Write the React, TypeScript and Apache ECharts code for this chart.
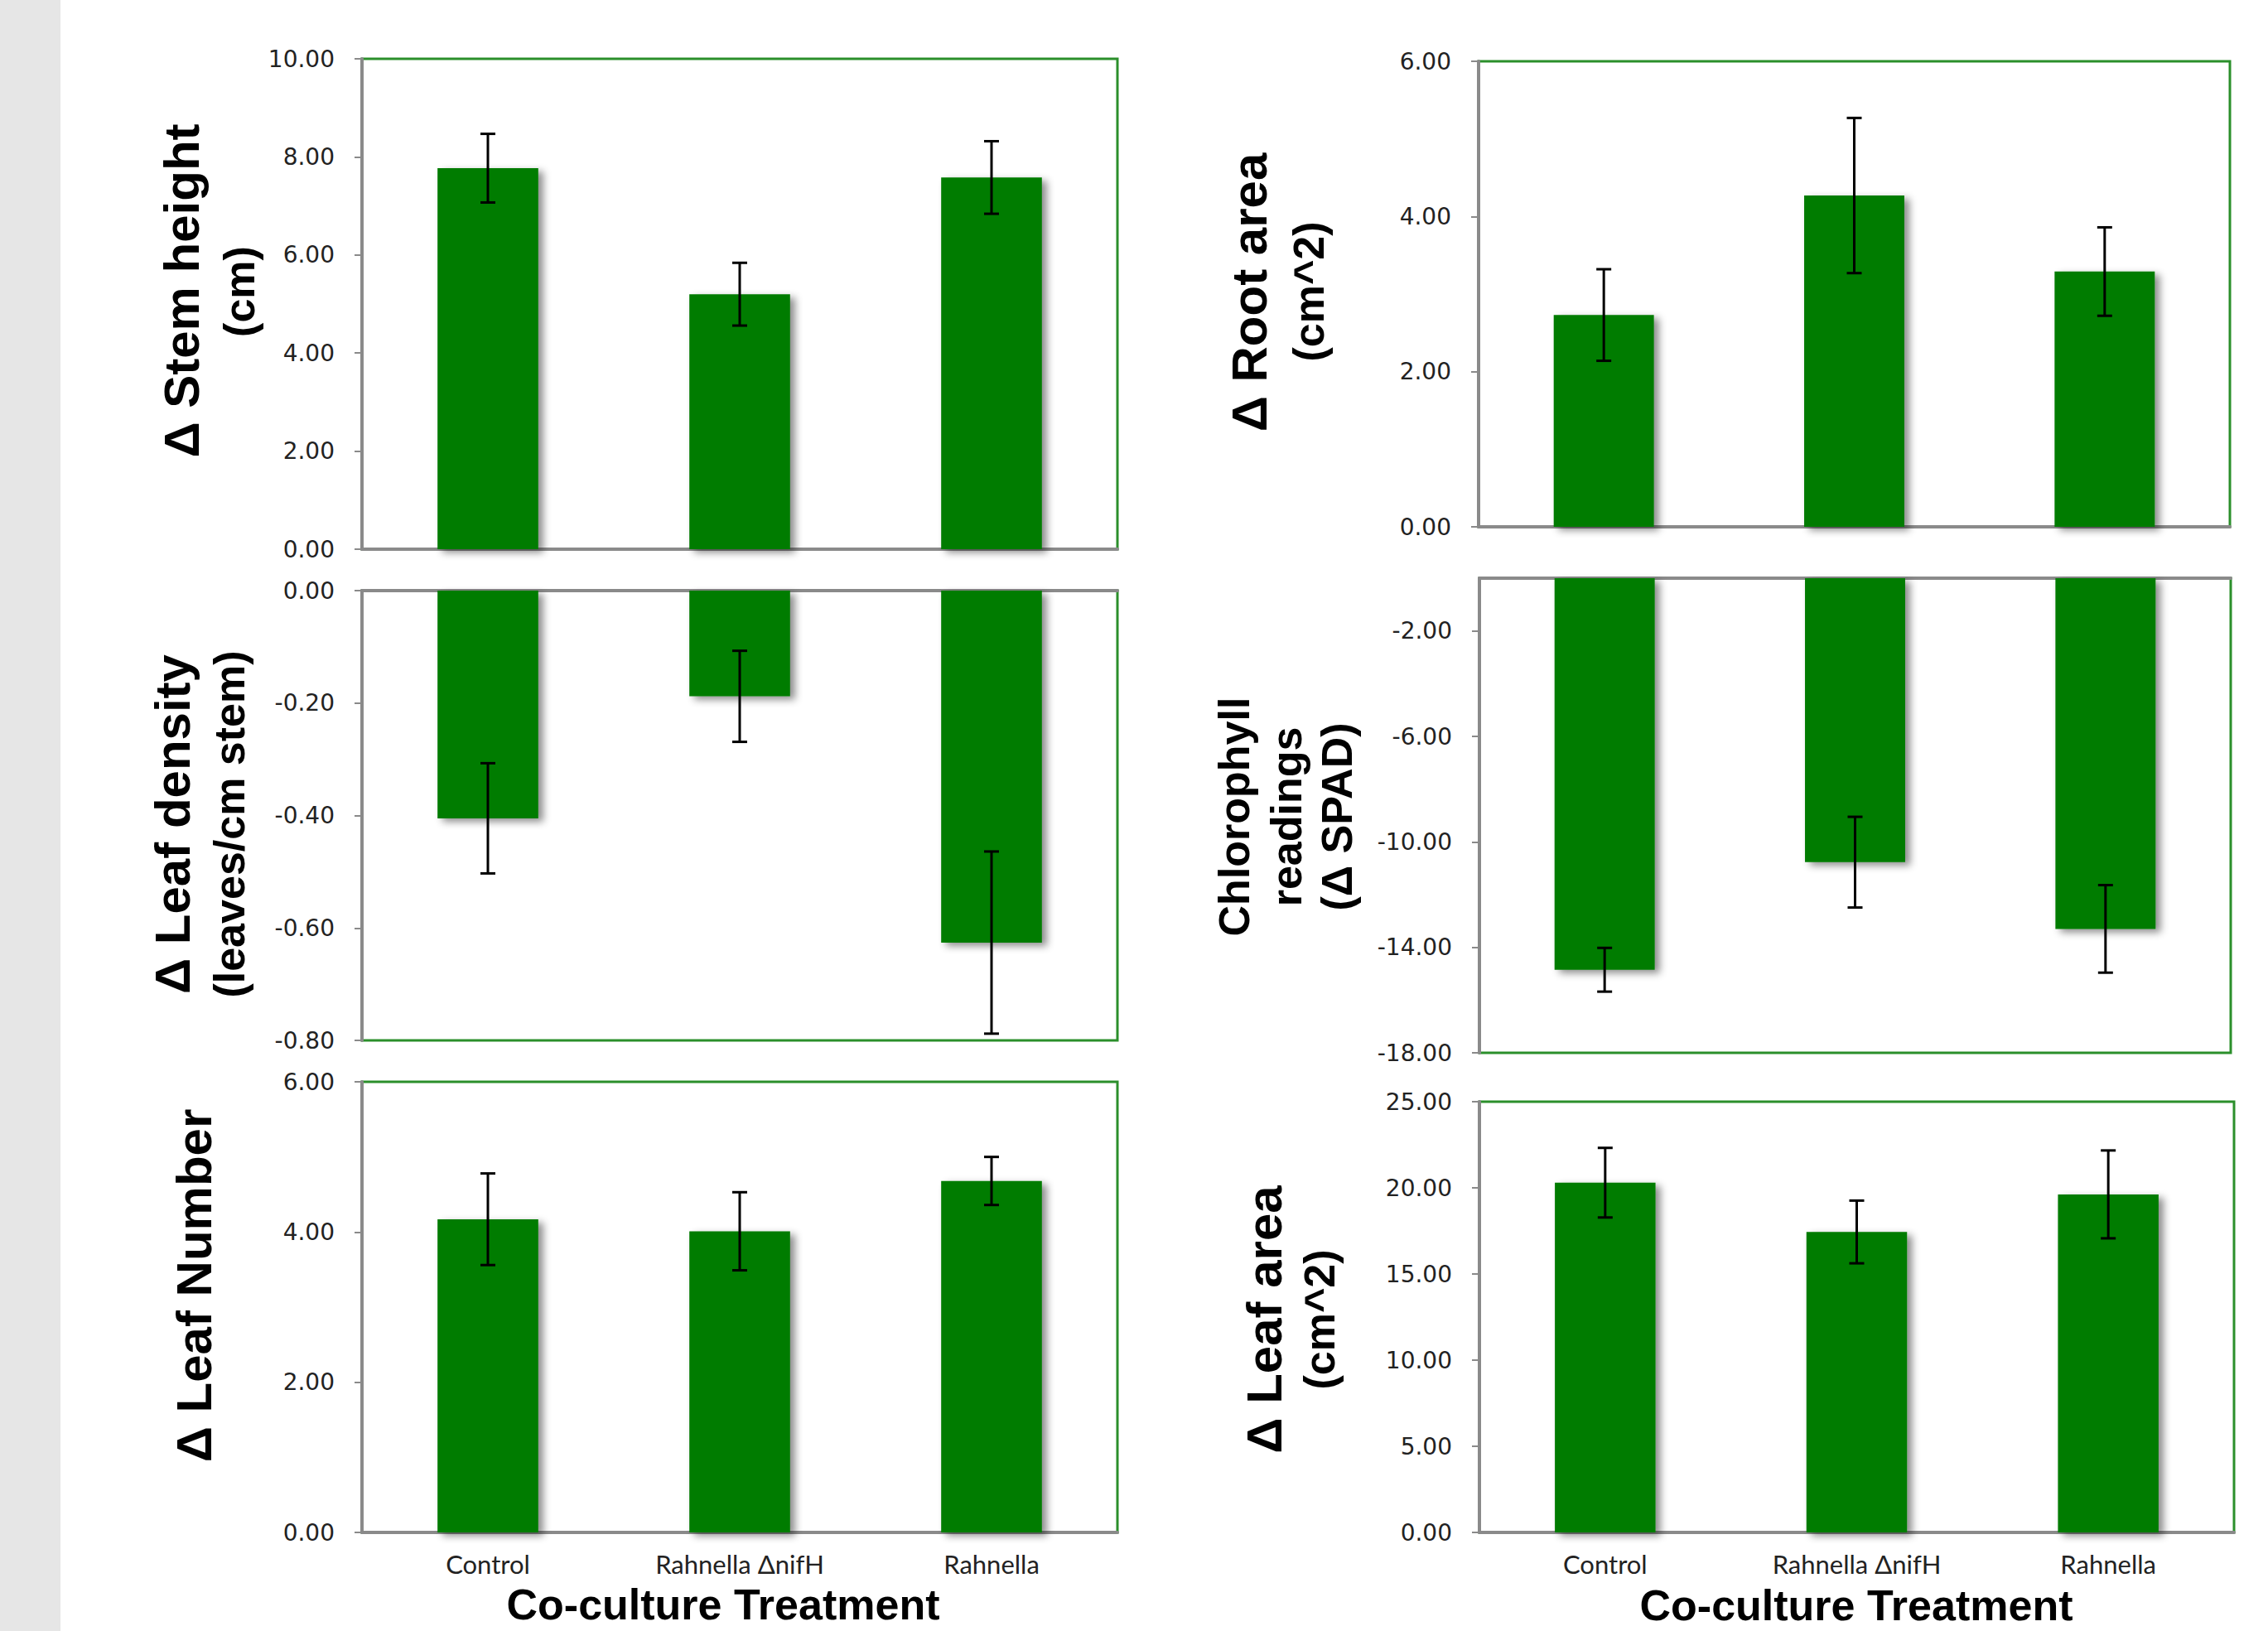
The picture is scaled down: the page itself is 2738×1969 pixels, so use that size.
import React, { useEffect, useRef } from "react";
import * as echarts from "echarts";

const categories = ["Control", "Rahnella ΔnifH", "Rahnella"];

const stemHeight = [7.77, 5.2, 7.58];
const stemHeightErr = [0.7, 0.64, 0.74];
const rootArea = [2.73, 4.27, 3.29];
const rootAreaErr = [0.59, 1.0, 0.57];
const leafDensity = [-0.405, -0.188, -0.626];
const leafDensityErr = [0.098, 0.081, 0.162];
const chlorophyll = [-14.85, -10.77, -13.3];
const chlorophyllErr = [0.83, 1.72, 1.66];
const leafNumber = [4.17, 4.01, 4.68];
const leafNumberErr = [0.61, 0.52, 0.32];
const leafArea = [20.3, 17.44, 19.62];
const leafAreaErr = [2.02, 1.82, 2.55];

const chlorophyllTicks = [-18, -14, -10, -6, -2];

const BAR = "#007b00";
const BORDER = "#2b8f2b";
const AXIS = "#8a8a8a";
const TICKFONT = "DejaVu Sans";
const TITLEFONT = "Liberation Sans";

type Panel = {
  values: number[];
  errs: number[];
  min: number;
  max: number;
  interval?: number;
  custom?: number[];
  grid: { left: number; top: number; width: number; height: number };
  showCats: boolean;
};

const panels: Panel[] = [
  { values: stemHeight, errs: stemHeightErr, min: 0, max: 10, interval: 2, grid: { left: 437, top: 71, width: 912, height: 592 }, showCats: false },
  { values: rootArea, errs: rootAreaErr, min: 0, max: 6, interval: 2, grid: { left: 1785, top: 74, width: 907, height: 562 }, showCats: false },
  { values: leafDensity, errs: leafDensityErr, min: -0.8, max: 0, interval: 0.2, grid: { left: 437, top: 713, width: 912, height: 543 }, showCats: false },
  { values: chlorophyll, errs: chlorophyllErr, min: -18, max: 0, custom: chlorophyllTicks, grid: { left: 1786, top: 698, width: 907, height: 573 }, showCats: false },
  { values: leafNumber, errs: leafNumberErr, min: 0, max: 6, interval: 2, grid: { left: 437, top: 1306, width: 912, height: 544 }, showCats: true },
  { values: leafArea, errs: leafAreaErr, min: 0, max: 25, interval: 5, grid: { left: 1786, top: 1330, width: 911, height: 520 }, showCats: true },
];

function rotText(text: string, x: number, y: number, size: number) {
  return {
    type: "text",
    x,
    y,
    rotation: Math.PI / 2,
    style: {
      text,
      font: `bold ${size}px "${TITLEFONT}", Arial, sans-serif`,
      fill: "#000",
      align: "center",
      verticalAlign: "middle",
    },
  };
}

function hText(text: string, x: number, y: number, size: number) {
  return {
    type: "text",
    x,
    y,
    style: {
      text,
      font: `bold ${size}px "${TITLEFONT}", Arial, sans-serif`,
      lineHeight: size,
      fill: "#000",
      align: "center",
      verticalAlign: "middle",
    },
  };
}

export default function App() {
  const ref = useRef<HTMLDivElement>(null);
  useEffect(() => {
    if (!ref.current) return;
    const chart = echarts.init(ref.current, undefined, { renderer: "svg" });

    const grids: any[] = [];
    const xAxes: any[] = [];
    const yAxes: any[] = [];
    const series: any[] = [];

    panels.forEach((p, i) => {
      grids.push({
        ...p.grid,
        show: true,
        borderColor: BORDER,
        borderWidth: 3,
        backgroundColor: "#fff",
        containLabel: false,
      });
      xAxes.push({
        type: "category",
        gridIndex: i,
        data: categories,
        axisLine: { show: true, onZero: true, lineStyle: { color: AXIS, width: 4 } },
        axisTick: { show: false },
        axisLabel: {
          show: p.showCats,
          fontFamily: "Lato",
          fontSize: 31,
          lineHeight: 32,
          color: "#222",
          margin: 22,
        },
        splitLine: { show: false },
      });
      const yAxis: any = {
        type: "value",
        gridIndex: i,
        min: p.min,
        max: p.max,
        axisLine: { show: true, lineStyle: { color: AXIS, width: 4 } },
        axisTick: { show: true, length: 9, lineStyle: { color: AXIS, width: 2 } },
        axisLabel: {
          fontFamily: TICKFONT,
          fontSize: 28,
          color: "#222",
          margin: 33,
          formatter: (v: number) => v.toFixed(2),
        },
        splitLine: { show: false },
      };
      if (p.interval !== undefined) yAxis.interval = p.interval;
      if (p.custom) {
        yAxis.axisLabel.customValues = p.custom;
        yAxis.axisTick.customValues = p.custom;
      }
      yAxes.push(yAxis);

      series.push({
        type: "bar",
        xAxisIndex: i,
        yAxisIndex: i,
        data: p.values,
        barWidth: "40%",
        itemStyle: {
          color: BAR,
          shadowColor: "rgba(0,0,0,0.45)",
          shadowBlur: 10,
          shadowOffsetX: 6,
          shadowOffsetY: 4,
        },
        z: 2,
      });
      series.push({
        type: "custom",
        xAxisIndex: i,
        yAxisIndex: i,
        z: 5,
        clip: false,
        encode: { x: 0, y: [1, 2] },
        data: p.values.map((v, k) => [k, v - p.errs[k], v + p.errs[k]]),
        renderItem: (params: any, api: any) => {
          const x = api.value(0);
          const lo = api.coord([x, api.value(1)]);
          const hi = api.coord([x, api.value(2)]);
          const hw = 9;
          const st = { stroke: "#000", lineWidth: 3 };
          return {
            type: "group",
            children: [
              { type: "line", shape: { x1: lo[0], y1: lo[1], x2: hi[0], y2: hi[1] }, style: st },
              { type: "line", shape: { x1: lo[0] - hw, y1: lo[1], x2: lo[0] + hw, y2: lo[1] }, style: st },
              { type: "line", shape: { x1: hi[0] - hw, y1: hi[1], x2: hi[0] + hw, y2: hi[1] }, style: st },
            ],
          };
        },
      });
    });

    const graphic: any[] = [
      { type: "rect", shape: { x: 0, y: 0, width: 73, height: 1969 }, style: { fill: "#e6e6e6" }, z: -10 },
      rotText("Δ Stem height", 219, 351, 60),
      rotText("(cm)", 289, 352, 52),
      rotText("Δ Root area", 1508, 353, 60),
      rotText("(cm^2)", 1580, 352, 52),
      rotText("Δ Leaf density", 208, 995, 60),
      rotText("(leaves/cm stem)", 277, 995, 52),
      rotText("Chlorophyll", 1490, 986, 52),
      rotText("readings", 1553, 986, 52),
      rotText("(Δ SPAD)", 1614, 986, 52),
      rotText("Δ Leaf Number", 234, 1552, 60),
      rotText("Δ Leaf area", 1526, 1593, 60),
      rotText("(cm^2)", 1593, 1593, 52),
      hText("Co-culture Treatment", 873, 1937, 52),
      hText("Co-culture Treatment", 2241, 1938, 52),
    ];

    chart.setOption({
      animation: false,
      backgroundColor: "#fff",
      grid: grids,
      xAxis: xAxes,
      yAxis: yAxes,
      series,
      graphic,
    });
    return () => chart.dispose();
  }, []);
  return (
    <div
      ref={ref}
      style={{ position: "absolute", left: 0, top: 0, width: 2738, height: 1969, background: "#fff" }}
    />
  );
}
